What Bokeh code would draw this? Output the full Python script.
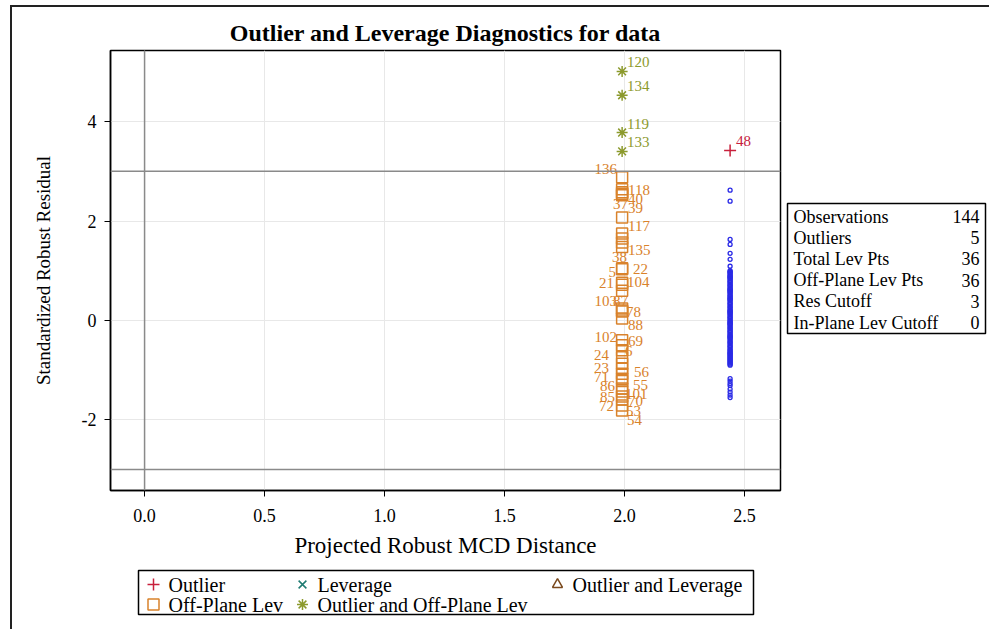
from bokeh.plotting import figure
from bokeh.layouts import row, column
from bokeh.models import (ColumnDataSource, Span, Range1d, FixedTicker, NumeralTickFormatter)
from bokeh.core.properties import value
from bokeh.embed import file_html
from bokeh.resources import INLINE

SERIF = "Liberation Serif"

title_text = "Outlier and Leverage Diagnostics for data"
x_label = "Projected Robust MCD Distance"
y_label = "Standardized Robust Residual"
x_ticks = [0.0, 0.5, 1.0, 1.5, 2.0, 2.5]
y_ticks = [-2, 0, 2, 4]
res_cutoff = 3
in_plane_cutoff = 0

# Outlier and Off-Plane Lev
star_x = [1.99, 1.99, 1.99, 1.99]
star_y = [5.01, 4.53, 3.78, 3.40]
star_lab = ["120", "134", "119", "133"]

# Outlier
out_x = [2.44]
out_y = [3.42]
out_lab = ["48"]

# Off-Plane Lev
off_y = [2.88, 2.64, 2.58, 2.55, 2.52, 2.07, 1.75, 1.65, 1.57, 1.48,
         1.05, 1.03, 0.76, 0.72, 0.60, 0.24, 0.20, 0.18, 0.04, -0.40,
         -0.50, -0.60, -0.74, -0.87, -0.97, -1.07, -1.17, -1.22, -1.37, -1.43,
         -1.53, -1.59, -1.71, -1.81]
off_x = [1.99] * len(off_y)
off_lab = ["136", "118", "40", "37", "39", "117", "", "", "135", "38",
           "5", "22", "21", "104", "", "103", "87", "78", "88", "102",
           "69", "6", "24", "23", "56", "71", "86", "55", "85", "101",
           "70", "72", "53", "54"]
# label placement (style): side, dx, dy in screen px
off_side = ["L", "R", "R", "L", "R", "R", "R", "R", "R", "L",
            "L", "R", "L", "R", "R", "L", "L", "R", "R", "L",
            "R", "R", "L", "L", "R", "L", "L", "R", "L", "R",
            "R", "L", "R", "R"]
off_dx = [-5, 6, 6, 6, 6, 6, 0, 0, 6, 5,
          -6, 11, -8, 5, 0, -5, 6, 4, 6, -5,
          6, 3, -13, -13, 12, -13, -7, 11, -7, 3,
          6, -8, 4, 5]
off_dy = [-8, 1, 7, 10, 13, 8, 0, 0, 8, 10,
          4, 0, 0, -3, 0, -8, -10, 0, 7, -3,
          -4, 1, -2, 4, 3, 3, 7, 4, 8, 2,
          4, 6, 6, 10]

# Normal observations
norm_y = [2.62, 2.40, 1.63, 1.53, 1.35, 1.23, 1.09,
          1.00, 0.97, 0.95, 0.92, 0.90, 0.88, 0.85, 0.83, 0.80, 0.78,
          0.76, 0.73, 0.71, 0.69, 0.66, 0.64, 0.62, 0.59, 0.57, 0.55,
          0.52, 0.50, 0.48, 0.46, 0.43, 0.41, 0.39, 0.36, 0.34, 0.32,
          0.29, 0.27, 0.25, 0.22, 0.20, 0.18, 0.15, 0.13, 0.11, 0.08,
          0.06, 0.04, 0.01, -0.01, -0.03, -0.06, -0.08, -0.10, -0.13, -0.15,
          -0.17, -0.20, -0.22, -0.24, -0.27, -0.29, -0.31, -0.34, -0.36, -0.38,
          -0.41, -0.43, -0.45, -0.47, -0.50, -0.52, -0.54, -0.57, -0.59, -0.61,
          -0.63, -0.66, -0.68, -0.70, -0.72, -0.74, -0.76, -0.78, -0.80, -0.82,
          -0.84, -0.86, -0.88, -0.90, 0.98, 0.87, 0.61, 0.44, 0.17, -0.05, -0.33, -0.65,
          -1.17, -1.22, -1.27, -1.31, -1.38, -1.44, -1.50, -1.55]
norm_x = [2.44] * len(norm_y)

stats_names = ["Observations", "Outliers", "Total Lev Pts", "Off-Plane Lev Pts",
               "Res Cutoff", "In-Plane Lev Cutoff"]
stats_values = ["144", "5", "36", "36", "3", "0"]

legend_labels = ["Outlier", "Leverage", "Outlier and Leverage",
                 "Off-Plane Lev", "Outlier and Off-Plane Lev"]

C_OUT = "#c8203c"
C_LEV = "#1f7b72"
C_OL = "#7b4a1e"
C_OFF = "#d9822b"
C_OOL = "#8c9a2d"
C_NORM = "#2a2ae6"

lab_font = value(SERIF)

TOP, BOTTOM = 43, 77

# ---------------- main panel ----------------
p = figure(width=772, height=560, output_backend="svg", toolbar_location=None,
           x_range=Range1d(-0.142, 2.65), y_range=Range1d(-3.42, 5.43),
           min_border_left=98, min_border_right=4, min_border_top=TOP, min_border_bottom=BOTTOM)

p.title.text = title_text
p.title.align = "center"
p.title.text_font = SERIF
p.title.text_font_size = "24px"
p.title.text_font_style = "bold"
p.title.text_color = "black"

p.outline_line_color = "black"
p.outline_line_width = 1.5

for ax in (p.xaxis[0], p.yaxis[0]):
    ax.major_label_text_font = SERIF
    ax.major_label_text_font_size = "18px"
    ax.major_label_text_color = "black"
    ax.axis_label_text_font = SERIF
    ax.axis_label_text_font_style = "normal"
    ax.axis_label_text_color = "black"
    ax.axis_line_color = "black"
    ax.axis_line_width = 1.5
    ax.major_tick_out = 6
    ax.major_tick_in = 0
    ax.major_tick_line_color = "black"
    ax.minor_tick_line_color = None
    ax.major_label_standoff = 8

p.xaxis[0].ticker = FixedTicker(ticks=x_ticks)
p.xaxis[0].formatter = NumeralTickFormatter(format="0.0")
p.xaxis[0].axis_label = x_label
p.xaxis[0].axis_label_text_font_size = "23px"
p.xaxis[0].major_label_standoff = 12
p.xaxis[0].axis_label_standoff = 8
p.yaxis[0].ticker = FixedTicker(ticks=y_ticks)
p.yaxis[0].major_label_overrides = {-2: "-2"}
p.yaxis[0].axis_label = y_label
p.yaxis[0].axis_label_text_font_size = "19px"
p.yaxis[0].axis_label_standoff = 25

p.grid.grid_line_color = "#e8e8e8"
p.grid.grid_line_width = 1

for loc in (res_cutoff, -res_cutoff):
    p.add_layout(Span(location=loc, dimension="width", line_color="#8a8a8a", line_width=1.5))
p.add_layout(Span(location=in_plane_cutoff, dimension="height", line_color="#8a8a8a", line_width=1.5))

p.scatter(norm_x, norm_y, marker="circle", size=4, fill_color=None,
          line_color=C_NORM, line_width=1.3)
p.scatter(off_x, off_y, marker="square", size=11, fill_color=None,
          line_color=C_OFF, line_width=1.5)
p.scatter(star_x, star_y, marker="asterisk", size=11, line_color=C_OOL, line_width=1.5)
p.scatter(out_x, out_y, marker="cross", size=12, line_color=C_OUT, line_width=1.5)


def add_labels(xs, ys, labs, dxs, dys, align, color):
    src = ColumnDataSource(dict(x=xs, y=ys, t=labs, dx=dxs, dy=dys))
    p.text(x="x", y="y", text="t", x_offset="dx", y_offset="dy", source=src,
           text_font=lab_font, text_font_size="15px", text_color=color,
           text_align=align, text_baseline="middle")


R = [i for i, s in enumerate(off_side) if s == "R" and off_lab[i]]
L = [i for i, s in enumerate(off_side) if s == "L" and off_lab[i]]
add_labels([off_x[i] for i in R], [off_y[i] for i in R], [off_lab[i] for i in R],
           [off_dx[i] for i in R], [off_dy[i] for i in R], "left", C_OFF)
add_labels([off_x[i] for i in L], [off_y[i] for i in L], [off_lab[i] for i in L],
           [off_dx[i] for i in L], [off_dy[i] for i in L], "right", C_OFF)
add_labels(star_x, star_y, star_lab, [5] * 4, [-9] * 4, "left", C_OOL)
add_labels(out_x, out_y, out_lab, [6], [-9], "left", C_OUT)

# ---------------- statistics inset ----------------
# same frame height as the main panel; one y unit = one table row (21.2 px)
n_rows = len(stats_names)
t = figure(width=205, height=560, output_backend="svg", toolbar_location=None,
           x_range=Range1d(-3, 202), y_range=Range1d(12.92, -7.83),
           min_border_left=0, min_border_right=0, min_border_top=TOP, min_border_bottom=BOTTOM,
           x_axis_location=None, y_axis_location=None)
t.grid.visible = False
t.outline_line_color = None
t.quad(left=[0], right=[198], top=[-0.61], bottom=[n_rows - 0.48],
       fill_color="white", line_color="black", line_width=1.5)
tsrc = ColumnDataSource(dict(r=list(range(n_rows)), name=stats_names, val=stats_values,
                             xl=[0] * n_rows, xr=[198] * n_rows))
t.text(x="xl", y="r", text="name", source=tsrc, x_offset=6, text_font=lab_font,
       text_font_size="18px", text_color="black", text_align="left", text_baseline="middle")
t.text(x="xr", y="r", text="val", source=tsrc, x_offset=-6, text_font=lab_font,
       text_font_size="18px", text_color="black", text_align="right", text_baseline="middle")

# ---------------- legend panel ----------------
lg = figure(width=977, height=62, output_backend="svg", toolbar_location=None,
            x_range=Range1d(0, 615), y_range=Range1d(0, 44),
            min_border_left=126, min_border_right=236, min_border_top=3, min_border_bottom=15,
            x_axis_location=None, y_axis_location=None)
lg.grid.visible = False
lg.outline_line_color = "black"
lg.outline_line_width = 1.5
key_x = [15, 164, 419, 15, 164]
key_y = [30, 30, 30, 10, 10]
key_marker = ["cross", "x", "triangle", "square", "asterisk"]
key_color = [C_OUT, C_LEV, C_OL, C_OFF, C_OOL]
key_size = [12, 11, 10, 11, 11]
ksrc = ColumnDataSource(dict(x=key_x, y=key_y, m=key_marker, c=key_color, s=key_size,
                             lab=legend_labels, tx=[k + 15 for k in key_x]))
lg.scatter(x="x", y="y", marker="m", size="s", line_color="c", fill_color=None,
           line_width=1.5, source=ksrc)
lg.text(x="tx", y="y", text="lab", source=ksrc, text_font=lab_font, text_font_size="20px",
        text_color="black", text_align="left", text_baseline="middle")

layout = column(row(p, t), lg)
layout.styles = {"margin-left": "10px", "margin-top": "5px",
                 "border-left": "2px solid #222", "border-top": "2px solid #222"}

open("out.html", "w").write(file_html(layout, INLINE))
